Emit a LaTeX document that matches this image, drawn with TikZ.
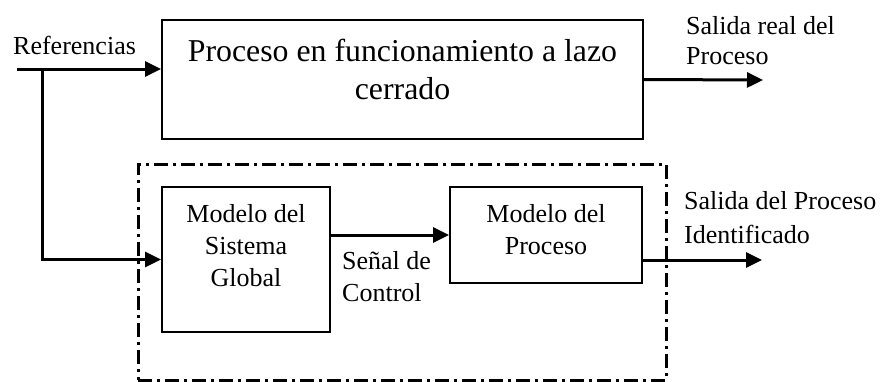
\documentclass[tikz,border=0pt]{standalone}
\usepackage{fontspec}
\setmainfont{Liberation Serif}
\usetikzlibrary{arrows.meta,positioning,calc}

\begin{document}
\begin{tikzpicture}[x=1pt,y=-1pt,>={Triangle[length=16pt,width=15pt]},
  font=\fontsize{26}{32}\selectfont,
  blk/.style={draw,line width=1.9pt,inner sep=0pt},
  frame/.style={draw,line width=3pt,inner sep=0pt,dash pattern=on 14pt off 5pt on 3pt off 5pt},
  txt/.style={inner sep=0pt,align=center},
  lbl/.style={inner sep=0pt,align=left},
  sig/.style={->,line width=3pt}]
  \useasboundingbox (0,0) rectangle (886,381);
  % boxes
  \node[blk,minimum width=481pt,minimum height=119pt] (proc) at (402.5,79.5) {};
  \node[frame,minimum width=528pt,minimum height=216pt] (ident) at (402,272) {};
  \node[blk,minimum width=168pt,minimum height=145pt] (glob) at (246,259.5) {};
  \node[blk,minimum width=192pt,minimum height=96pt] (mod) at (546,235) {};
  % box texts
  \node[txt,anchor=north,font=\fontsize{31.8}{38}\selectfont] (proctxt) at (402.5,39)
    {Proceso en funcionamiento a lazo\\cerrado};
  \node[txt,anchor=north] (globtxt) at (246,204) {Modelo del\\Sistema\\Global};
  \node[txt,anchor=north] (modtxt) at (546,204) {Modelo del\\Proceso};
  % labels
  \node[lbl,anchor=west] (ref) at (13,45) {Referencias};
  \node[lbl,anchor=north west,font=\fontsize{26}{30}\selectfont] (outplbl) at (686,16)
    {Salida real del\\Proceso};
  \node[lbl,anchor=north west] (ctrl) at (342,251) {Señal de\\Control};
  \node[lbl,anchor=north west,font=\fontsize{26}{34}\selectfont] (outmlbl) at (684,191)
    {Salida del Proceso\\Identificado};
  % connectors
  \coordinate (in) at (17,69);
  \coordinate (br) at (42,69);
  \coordinate (outp) at (763,80);
  \coordinate (outm) at (762,260);
  \draw[sig] (in) -- (in -| proc.west);
  \draw[sig] (br) |- (glob.west);
  \draw[sig] (glob.east |- mod.west) -- (mod.west);
  \draw[sig] (proc.east) -- (outp);
  \draw[sig] (mod.east |- outm) -- (outm);
\end{tikzpicture}
\end{document}
